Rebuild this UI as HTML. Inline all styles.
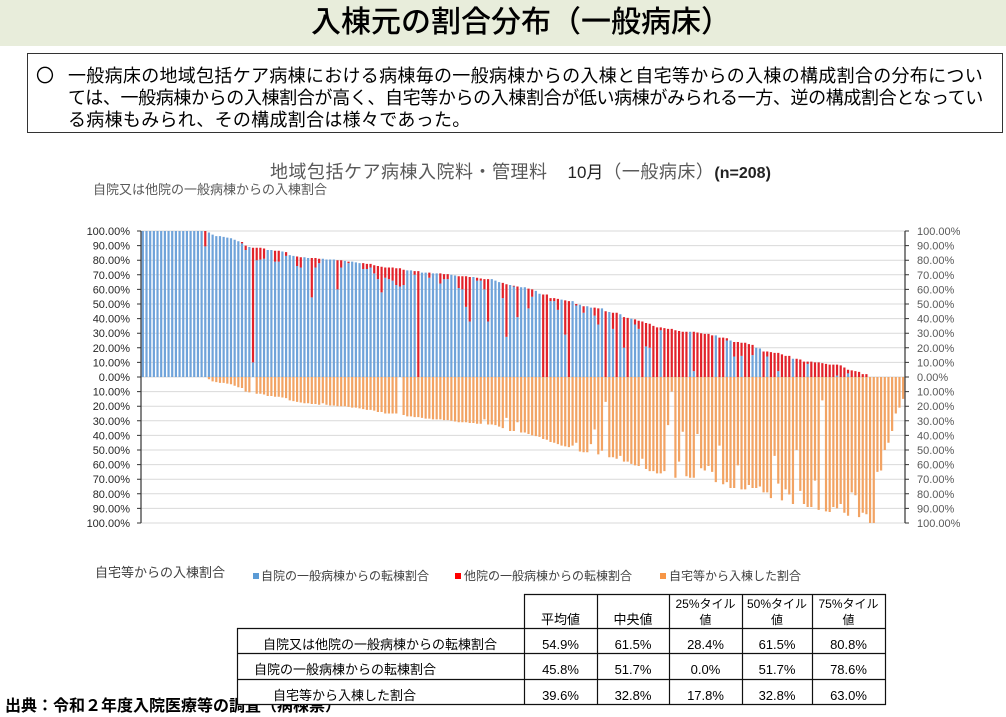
<!DOCTYPE html>
<html><head><meta charset="utf-8">
<style>
body{margin:0;background:#fff;}
#p{position:relative;width:1006px;height:717px;overflow:hidden;background:#fff;font-family:"Liberation Sans","Noto Sans CJK JP",sans-serif;color:#000;}
.a{position:absolute;white-space:nowrap;}
.t{font-size:13px;line-height:16px;text-align:center;}
.h{font-size:12px;line-height:16px;text-align:center;}
</style></head><body><div id="p">

<div class="a" style="left:0;top:0;width:1006px;height:46px;background:#E8EDDB;"></div>
<div class="a" style="left:311px;top:0;height:46px;line-height:46px;font-size:30px;font-weight:500;">入棟元の割合分布（一般病床）</div>

<div class="a" style="left:27px;top:53px;width:974px;height:78px;border:1.5px solid #333;"></div>
<div class="a" style="left:36px;top:65px;font-size:18px;line-height:22px;">〇</div>
<div class="a" style="left:68px;top:65px;font-size:18px;line-height:22px;letter-spacing:0.3px;">一般病床の地域包括ケア病棟における病棟毎の一般病棟からの入棟と自宅等からの入棟の構成割合の分布につい</div>
<div class="a" style="left:68px;top:87px;font-size:18px;line-height:22px;letter-spacing:-0.37px;">ては、一般病棟からの入棟割合が高く、自宅等からの入棟割合が低い病棟がみられる一方、逆の構成割合となってい</div>
<div class="a" style="left:68px;top:109px;font-size:18px;line-height:22px;letter-spacing:0.3px;">る病棟もみられ、その構成割合は様々であった。</div>

<div class="a" style="left:270px;top:162px;line-height:20px;font-size:18px;color:#595959;letter-spacing:0.5px;">地域包括ケア病棟入院料・管理料<span style="color:#222;font-size:17px;margin-left:20px;letter-spacing:0;">10月</span>（一般病床）<b style="color:#222;font-size:16px;letter-spacing:0;">(n=208)</b></div>
<div class="a" style="left:93px;top:182px;font-size:13px;line-height:16px;color:#595959;">自院又は他院の一般病棟からの入棟割合</div>

<svg class="a" style="left:0;top:0" width="1006" height="717">
<path fill="none" stroke="#D9D9D9" stroke-width="1" d="M141 231H905M141 245.6H905M141 260.2H905M141 274.8H905M141 289.4H905M141 304H905M141 318.6H905M141 333.2H905M141 347.8H905M141 362.4H905M141 377H905M141 391.6H905M141 406.2H905M141 420.8H905M141 435.4H905M141 450H905M141 464.6H905M141 479.2H905M141 493.8H905M141 508.4H905M141 523H905"/>
<g transform="matrix(3.673 0 0 -1.46 141 377)">
<path fill="#6FA3DA" d="M0.2 0V100h.6V0zM1.2 0V100h.6V0zM2.2 0V100h.6V0zM3.2 0V100h.6V0zM4.2 0V100h.6V0zM5.2 0V100h.6V0zM6.2 0V100h.6V0zM7.2 0V100h.6V0zM8.2 0V100h.6V0zM9.2 0V100h.6V0zM10.2 0V100h.6V0zM11.2 0V100h.6V0zM12.2 0V100h.6V0zM13.2 0V100h.6V0zM14.2 0V100h.6V0zM15.2 0V100h.6V0zM16.2 0V100h.6V0zM17.2 0V89.5h.6V0zM18.2 0V99h.6V0zM19.2 0V97.5h.6V0zM20.2 0V96.5h.6V0zM21.2 0V96.5h.6V0zM22.2 0V96h.6V0zM23.2 0V95.5h.6V0zM24.2 0V95h.6V0zM25.2 0V94h.6V0zM26.2 0V93h.6V0zM27.2 0V91.5h.6V0zM28.2 0V87h.6V0zM29.2 0V89h.6V0zM30.2 0V10h.6V0zM31.2 0V80h.6V0zM32.2 0V80.5h.6V0zM33.2 0V81h.6V0zM34.2 0V87h.6V0zM35.2 0V87h.6V0zM36.2 0V79h.6V0zM37.2 0V79h.6V0zM38.2 0V86h.6V0zM39.2 0V83h.6V0zM40.2 0V83.5h.6V0zM41.2 0V83h.6V0zM42.2 0V76h.6V0zM43.2 0V75h.6V0zM44.2 0V82h.6V0zM45.2 0V81.5h.6V0zM46.2 0V54.5h.6V0zM47.2 0V75h.6V0zM48.2 0V78h.6V0zM49.2 0V81h.6V0zM50.2 0V80.5h.6V0zM51.2 0V80.5h.6V0zM52.2 0V80.5h.6V0zM53.2 0V60h.6V0zM54.2 0V75h.6V0zM55.2 0V79.5h.6V0zM56.2 0V78h.6V0zM57.2 0V79h.6V0zM58.2 0V78.5h.6V0zM59.2 0V78h.6V0zM60.2 0V74h.6V0zM61.2 0V74h.6V0zM62.2 0V75h.6V0zM63.2 0V71h.6V0zM64.2 0V67h.6V0zM65.2 0V58h.6V0zM66.2 0V68h.6V0zM67.2 0V67h.6V0zM68.2 0V66h.6V0zM69.2 0V63h.6V0zM70.2 0V62h.6V0zM71.2 0V63h.6V0zM72.2 0V73h.6V0zM73.2 0V73h.6V0zM74.2 0V70h.6V0zM76.2 0V71.5h.6V0zM77.2 0V71.5h.6V0zM78.2 0V68h.6V0zM79.2 0V71h.6V0zM80.2 0V71h.6V0zM81.2 0V64h.6V0zM82.2 0V67h.6V0zM83.2 0V67h.6V0zM84.2 0V70h.6V0zM85.2 0V69.5h.6V0zM86.2 0V61h.6V0zM87.2 0V60h.6V0zM88.2 0V48h.6V0zM89.2 0V38h.6V0zM90.2 0V68.5h.6V0zM91.2 0V66h.6V0zM92.2 0V66h.6V0zM93.2 0V60h.6V0zM94.2 0V38h.6V0zM95.2 0V67h.6V0zM96.2 0V66h.6V0zM97.2 0V65h.6V0zM98.2 0V54h.6V0zM99.2 0V27.5h.6V0zM100.2 0V63h.6V0zM101.2 0V62h.6V0zM102.2 0V41h.6V0zM103.2 0V61.5h.6V0zM104.2 0V61.5h.6V0zM105.2 0V47h.6V0zM106.2 0V55h.6V0zM107.2 0V59h.6V0zM108.2 0V57h.6V0zM111.2 0V52h.6V0zM112.2 0V52h.6V0zM113.2 0V46h.6V0zM114.2 0V53h.6V0zM115.2 0V29h.6V0zM117.2 0V52h.6V0zM118.2 0V49h.6V0zM119.2 0V49.5h.6V0zM120.2 0V44h.6V0zM121.2 0V48.5h.6V0zM122.2 0V47.5h.6V0zM123.2 0V42h.6V0zM124.2 0V36h.6V0zM125.2 0V47h.6V0zM127.2 0V44.5h.6V0zM128.2 0V33h.6V0zM130.2 0V43h.6V0zM131.2 0V20h.6V0zM133.2 0V40h.6V0zM134.2 0V36h.6V0zM135.2 0V33h.6V0zM137.2 0V21h.6V0zM138.2 0V20h.6V0zM141.2 0V32h.6V0zM149.2 0V31h.6V0zM150.2 0V4h.6V0zM156.2 0V28.5h.6V0zM159.2 0V25h.6V0zM160.2 0V25h.6V0zM161.2 0V14h.6V0zM163.2 0V14.5h.6V0zM166.2 0V15h.6V0zM167.2 0V20h.6V0zM168.2 0V19.5h.6V0zM170.2 0V14h.6V0zM173.2 0V4h.6V0zM177.2 0V12.5h.6V0zM181.2 0V9h.6V0zM189.2 0V1h.6V0zM192.2 0V2.5h.6V0z"/>
<path fill="#E2222A" d="M17.2 89.5V100h.6V89.5zM27.2 91.5V92.5h.6V91.5zM28.2 87V90h.6V87zM30.2 10V88.5h.6V10zM31.2 80V88.5h.6V80zM32.2 80.5V88.5h.6V80.5zM33.2 81V88h.6V81zM36.2 79V86.5h.6V79zM37.2 79V86.5h.6V79zM39.2 83V85.5h.6V83zM42.2 76V82.5h.6V76zM43.2 75V82h.6V75zM46.2 54.5V81.5h.6V54.5zM47.2 75V81.5h.6V75zM48.2 78V81h.6V78zM53.2 60V80h.6V60zM54.2 75V80h.6V75zM56.2 78V79h.6V78zM60.2 74V78h.6V74zM61.2 74V77.5h.6V74zM62.2 75V77.5h.6V75zM63.2 71V76.5h.6V71zM64.2 67V76h.6V67zM65.2 58V75.5h.6V58zM66.2 68V75h.6V68zM67.2 67V75h.6V67zM68.2 66V75h.6V66zM69.2 63V74.5h.6V63zM70.2 62V74.5h.6V62zM71.2 63V73.5h.6V63zM74.2 70V72.5h.6V70zM75.2 0V72.5h.6V0zM78.2 68V71.5h.6V68zM81.2 64V71h.6V64zM82.2 67V70.5h.6V67zM83.2 67V70.5h.6V67zM86.2 61V69h.6V61zM87.2 60V69h.6V60zM88.2 48V69h.6V48zM89.2 38V68.5h.6V38zM91.2 66V68h.6V66zM92.2 66V67.5h.6V66zM93.2 60V67h.6V60zM94.2 38V67h.6V38zM98.2 54V64.5h.6V54zM99.2 27.5V63.5h.6V27.5zM101.2 62V62.5h.6V62zM102.2 41V62h.6V41zM105.2 47V60.5h.6V47zM106.2 55V60h.6V55zM109.2 0V56.5h.6V0zM110.2 0V56.5h.6V0zM111.2 52V54h.6V52zM112.2 52V54h.6V52zM113.2 46V53.5h.6V46zM115.2 29V52.5h.6V29zM116.2 0V52h.6V0zM118.2 49V50h.6V49zM120.2 44V48.5h.6V44zM123.2 42V47.5h.6V42zM124.2 36V47h.6V36zM126.2 0V45h.6V0zM128.2 33V44h.6V33zM129.2 0V44h.6V0zM131.2 20V41h.6V20zM132.2 0V40.5h.6V0zM134.2 36V39.5h.6V36zM135.2 33V38.5h.6V33zM136.2 0V38h.6V0zM137.2 21V37h.6V21zM138.2 20V36.5h.6V20zM139.2 0V35h.6V0zM140.2 0V34h.6V0zM141.2 32V34h.6V32zM142.2 0V33.5h.6V0zM143.2 0V33h.6V0zM144.2 0V33h.6V0zM145.2 0V32h.6V0zM146.2 0V31.5h.6V0zM147.2 0V31h.6V0zM148.2 0V31h.6V0zM150.2 4V31h.6V4zM151.2 0V30.5h.6V0zM152.2 0V30h.6V0zM153.2 0V29.5h.6V0zM154.2 0V29.5h.6V0zM155.2 0V28.5h.6V0zM157.2 0V27h.6V0zM158.2 0V27h.6V0zM159.2 25V26.5h.6V25zM161.2 14V24h.6V14zM162.2 0V24h.6V0zM163.2 14.5V23.5h.6V14.5zM164.2 0V23.5h.6V0zM165.2 0V22.5h.6V0zM166.2 15V22h.6V15zM169.2 0V17.5h.6V0zM170.2 14V17.5h.6V14zM171.2 0V17h.6V0zM172.2 0V16.5h.6V0zM173.2 4V16.5h.6V4zM174.2 0V15.5h.6V0zM175.2 0V14.5h.6V0zM176.2 0V14.5h.6V0zM178.2 0V12.5h.6V0zM179.2 0V12h.6V0zM180.2 0V10.5h.6V0zM181.2 9V10.5h.6V9zM182.2 0V10.5h.6V0zM183.2 0V10h.6V0zM184.2 0V10h.6V0zM185.2 0V9.5h.6V0zM186.2 0V9h.6V0zM187.2 0V8.5h.6V0zM188.2 0V8.5h.6V0zM189.2 1V8.5h.6V1zM190.2 0V8h.6V0zM191.2 0V6.5h.6V0zM192.2 2.5V5h.6V2.5zM193.2 0V4.5h.6V0zM194.2 0V4h.6V0zM195.2 0V3.5h.6V0zM196.2 0V2h.6V0zM197.2 0V2h.6V0z"/>
<path fill="#F2A363" d="M18.2 0V-1.5h.6V0zM19.2 0V-3h.6V0zM20.2 0V-3.5h.6V0zM21.2 0V-4h.6V0zM22.2 0V-4h.6V0zM23.2 0V-4.5h.6V0zM24.2 0V-5h.6V0zM25.2 0V-6h.6V0zM26.2 0V-7h.6V0zM27.2 0V-7.5h.6V0zM28.2 0V-10h.6V0zM29.2 0V-10.5h.6V0zM31.2 0V-11.5h.6V0zM32.2 0V-11.5h.6V0zM33.2 0V-12h.6V0zM34.2 0V-13h.6V0zM35.2 0V-13h.6V0zM36.2 0V-13.5h.6V0zM37.2 0V-13.5h.6V0zM38.2 0V-14h.6V0zM39.2 0V-14.5h.6V0zM40.2 0V-16h.6V0zM41.2 0V-16.5h.6V0zM42.2 0V-17h.6V0zM43.2 0V-17.5h.6V0zM44.2 0V-18h.6V0zM45.2 0V-18h.6V0zM46.2 0V-18.5h.6V0zM47.2 0V-18.5h.6V0zM48.2 0V-19h.6V0zM49.2 0V-18h.6V0zM50.2 0V-19h.6V0zM51.2 0V-19.5h.6V0zM52.2 0V-19.5h.6V0zM53.2 0V-20h.6V0zM54.2 0V-20h.6V0zM55.2 0V-20h.6V0zM56.2 0V-20.5h.6V0zM57.2 0V-21h.6V0zM58.2 0V-21h.6V0zM59.2 0V-21.5h.6V0zM60.2 0V-22h.6V0zM61.2 0V-22.5h.6V0zM62.2 0V-22.5h.6V0zM63.2 0V-23h.6V0zM64.2 0V-24h.6V0zM65.2 0V-24h.6V0zM66.2 0V-25h.6V0zM67.2 0V-25h.6V0zM68.2 0V-25h.6V0zM69.2 0V-25h.6V0zM71.2 0V-26h.6V0zM72.2 0V-27h.6V0zM73.2 0V-27h.6V0zM74.2 0V-27.5h.6V0zM75.2 0V-27.5h.6V0zM76.2 0V-28h.6V0zM77.2 0V-28.5h.6V0zM78.2 0V-28.5h.6V0zM79.2 0V-29h.6V0zM80.2 0V-29h.6V0zM81.2 0V-29h.6V0zM82.2 0V-29.5h.6V0zM83.2 0V-29.5h.6V0zM84.2 0V-30h.6V0zM85.2 0V-30.5h.6V0zM86.2 0V-31h.6V0zM87.2 0V-31h.6V0zM88.2 0V-31h.6V0zM89.2 0V-31.5h.6V0zM90.2 0V-31.5h.6V0zM91.2 0V-32h.6V0zM92.2 0V-32h.6V0zM93.2 0V-29h.6V0zM94.2 0V-32.5h.6V0zM95.2 0V-32.5h.6V0zM96.2 0V-33h.6V0zM97.2 0V-34h.6V0zM98.2 0V-35h.6V0zM99.2 0V-28h.6V0zM100.2 0V-37h.6V0zM101.2 0V-37h.6V0zM102.2 0V-31h.6V0zM103.2 0V-38h.6V0zM104.2 0V-38h.6V0zM105.2 0V-39h.6V0zM106.2 0V-40h.6V0zM107.2 0V-40.5h.6V0zM108.2 0V-41h.6V0zM109.2 0V-42.5h.6V0zM110.2 0V-43h.6V0zM111.2 0V-44.5h.6V0zM112.2 0V-45h.6V0zM113.2 0V-46h.6V0zM114.2 0V-47h.6V0zM115.2 0V-47.5h.6V0zM116.2 0V-48h.6V0zM117.2 0V-47h.6V0zM118.2 0V-45h.6V0zM119.2 0V-51h.6V0zM120.2 0V-51.5h.6V0zM121.2 0V-51.5h.6V0zM122.2 0V-46h.6V0zM123.2 0V-36h.6V0zM124.2 0V-53h.6V0zM125.2 0V-50.5h.6V0zM126.2 0V-17h.6V0zM127.2 0V-55h.6V0zM128.2 0V-55h.6V0zM129.2 0V-56h.6V0zM130.2 0V-54h.6V0zM131.2 0V-58h.6V0zM132.2 0V-58h.6V0zM133.2 0V-59.5h.6V0zM134.2 0V-60.5h.6V0zM135.2 0V-61h.6V0zM136.2 0V-56h.6V0zM137.2 0V-63h.6V0zM138.2 0V-64.5h.6V0zM139.2 0V-64.5h.6V0zM140.2 0V-66h.6V0zM141.2 0V-66h.6V0zM142.2 0V-64.5h.6V0zM143.2 0V-33h.6V0zM144.2 0V-10h.6V0zM145.2 0V-69h.6V0zM146.2 0V-58h.6V0zM147.2 0V-37.5h.6V0zM148.2 0V-68h.6V0zM149.2 0V-69h.6V0zM150.2 0V-69h.6V0zM151.2 0V-39h.6V0zM152.2 0V-62.5h.6V0zM153.2 0V-64h.6V0zM154.2 0V-61h.6V0zM155.2 0V-65h.6V0zM156.2 0V-72h.6V0zM157.2 0V-47h.6V0zM158.2 0V-73.5h.6V0zM159.2 0V-72h.6V0zM160.2 0V-76h.6V0zM161.2 0V-76h.6V0zM162.2 0V-60.5h.6V0zM163.2 0V-77h.6V0zM164.2 0V-77h.6V0zM165.2 0V-74h.6V0zM166.2 0V-76h.6V0zM167.2 0V-76h.6V0zM168.2 0V-75h.6V0zM169.2 0V-79h.6V0zM170.2 0V-79h.6V0zM171.2 0V-83h.6V0zM172.2 0V-54h.6V0zM173.2 0V-73h.6V0zM174.2 0V-84.5h.6V0zM175.2 0V-77h.6V0zM176.2 0V-80.5h.6V0zM177.2 0V-87h.6V0zM178.2 0V-50h.6V0zM179.2 0V-78h.6V0zM180.2 0V-87h.6V0zM181.2 0V-89h.6V0zM182.2 0V-89h.6V0zM183.2 0V-71h.6V0zM184.2 0V-91h.6V0zM185.2 0V-16h.6V0zM186.2 0V-92h.6V0zM187.2 0V-92.5h.6V0zM188.2 0V-89h.6V0zM189.2 0V-90h.6V0zM190.2 0V-87h.6V0zM191.2 0V-93h.6V0zM192.2 0V-95h.6V0zM193.2 0V-79h.6V0zM194.2 0V-81h.6V0zM195.2 0V-96h.6V0zM196.2 0V-93h.6V0zM197.2 0V-94h.6V0zM198.2 0V-100h.6V0zM199.2 0V-100h.6V0zM200.2 0V-65h.6V0zM201.2 0V-64h.6V0zM202.2 0V-50h.6V0zM203.2 0V-45h.6V0zM204.2 0V-37h.6V0zM205.2 0V-25h.6V0zM206.2 0V-21h.6V0zM207.2 0V-15h.6V0z"/>
</g>
<path fill="none" stroke="#333" stroke-width="1.2" d="M141 231V523M905 231V523"/>
<path fill="none" stroke="#333" stroke-width="1" d="M137 231H141M137 245.6H141M137 260.2H141M137 274.8H141M137 289.4H141M137 304H141M137 318.6H141M137 333.2H141M137 347.8H141M137 362.4H141M137 377H141M137 391.6H141M137 406.2H141M137 420.8H141M137 435.4H141M137 450H141M137 464.6H141M137 479.2H141M137 493.8H141M137 508.4H141M137 523H141M905 231H909M905 245.6H909M905 260.2H909M905 274.8H909M905 289.4H909M905 304H909M905 318.6H909M905 333.2H909M905 347.8H909M905 362.4H909M905 377H909M905 391.6H909M905 406.2H909M905 420.8H909M905 435.4H909M905 450H909M905 464.6H909M905 479.2H909M905 493.8H909M905 508.4H909M905 523H909"/>
<g font-family="Liberation Sans, sans-serif" font-size="11" fill="#262626" text-anchor="end">
<text x="130" y="235">100.00%</text><text x="130" y="249.6">90.00%</text><text x="130" y="264.2">80.00%</text><text x="130" y="278.8">70.00%</text><text x="130" y="293.4">60.00%</text><text x="130" y="308">50.00%</text><text x="130" y="322.6">40.00%</text><text x="130" y="337.2">30.00%</text><text x="130" y="351.8">20.00%</text><text x="130" y="366.4">10.00%</text><text x="130" y="381">0.00%</text><text x="130" y="395.6">10.00%</text><text x="130" y="410.2">20.00%</text><text x="130" y="424.8">30.00%</text><text x="130" y="439.4">40.00%</text><text x="130" y="454">50.00%</text><text x="130" y="468.6">60.00%</text><text x="130" y="483.2">70.00%</text><text x="130" y="497.8">80.00%</text><text x="130" y="512.4">90.00%</text><text x="130" y="527">100.00%</text>
</g>
<g font-family="Liberation Sans, sans-serif" font-size="11" fill="#595959">
<text x="917" y="235">100.00%</text><text x="917" y="249.6">90.00%</text><text x="917" y="264.2">80.00%</text><text x="917" y="278.8">70.00%</text><text x="917" y="293.4">60.00%</text><text x="917" y="308">50.00%</text><text x="917" y="322.6">40.00%</text><text x="917" y="337.2">30.00%</text><text x="917" y="351.8">20.00%</text><text x="917" y="366.4">10.00%</text><text x="917" y="381">0.00%</text><text x="917" y="395.6">10.00%</text><text x="917" y="410.2">20.00%</text><text x="917" y="424.8">30.00%</text><text x="917" y="439.4">40.00%</text><text x="917" y="454">50.00%</text><text x="917" y="468.6">60.00%</text><text x="917" y="483.2">70.00%</text><text x="917" y="497.8">80.00%</text><text x="917" y="512.4">90.00%</text><text x="917" y="527">100.00%</text>
</g>
<rect x="253" y="573" width="6" height="6" fill="#5B9BD5"/>
<rect x="455" y="573" width="6" height="6" fill="#FF0000"/>
<rect x="660" y="573" width="6" height="6" fill="#F79646"/>
</svg>

<div class="a" style="left:95px;top:565px;font-size:13px;line-height:16px;color:#404040;">自宅等からの入棟割合</div>
<div class="a" style="left:261px;top:569px;font-size:12px;line-height:15px;color:#404040;">自院の一般病棟からの転棟割合</div>
<div class="a" style="left:464px;top:569px;font-size:12px;line-height:15px;color:#404040;">他院の一般病棟からの転棟割合</div>
<div class="a" style="left:669px;top:569px;font-size:12px;line-height:15px;color:#404040;">自宅等から入棟した割合</div>

<div class="a" style="left:5px;top:698px;font-size:16px;line-height:18px;font-weight:bold;">出典：令和２年度入院医療等の調査（病棟票）</div>

<svg class="a" style="left:0;top:0" width="1006" height="717">
<rect x="524" y="594" width="361" height="34" fill="#fff"/>
<rect x="237" y="628" width="648" height="77" fill="#fff"/>
<path fill="none" stroke="#111" stroke-width="1.2" d="M524 594.5H886M237 628.5H886M237 653.5H886M237 679.5H886M237 704.5H886M237.5 628V705M524.5 594V705M597.5 594V705M669.5 594V705M742.5 594V705M812.5 594V705M885.5 594V705"/>
</svg>

<div class="a t" style="left:524px;top:612px;width:73px;">平均値</div>
<div class="a t" style="left:597px;top:612px;width:72px;">中央値</div>
<div class="a h" style="left:669px;top:596px;width:73px;">25%タイル<br>値</div>
<div class="a h" style="left:742px;top:596px;width:70px;">50%タイル<br>値</div>
<div class="a h" style="left:812px;top:596px;width:73px;">75%タイル<br>値</div>

<div class="a" style="left:263px;top:637px;font-size:13px;line-height:16px;">自院又は他院の一般病棟からの転棟割合</div>
<div class="a" style="left:254px;top:662px;font-size:13px;line-height:16px;">自院の一般病棟からの転棟割合</div>
<div class="a" style="left:273px;top:688px;font-size:13px;line-height:16px;">自宅等から入棟した割合</div>

<div class="a t" style="left:524px;top:637px;width:73px;">54.9%</div>
<div class="a t" style="left:597px;top:637px;width:72px;">61.5%</div>
<div class="a t" style="left:669px;top:637px;width:73px;">28.4%</div>
<div class="a t" style="left:742px;top:637px;width:70px;">61.5%</div>
<div class="a t" style="left:812px;top:637px;width:73px;">80.8%</div>

<div class="a t" style="left:524px;top:662px;width:73px;">45.8%</div>
<div class="a t" style="left:597px;top:662px;width:72px;">51.7%</div>
<div class="a t" style="left:669px;top:662px;width:73px;">0.0%</div>
<div class="a t" style="left:742px;top:662px;width:70px;">51.7%</div>
<div class="a t" style="left:812px;top:662px;width:73px;">78.6%</div>

<div class="a t" style="left:524px;top:688px;width:73px;">39.6%</div>
<div class="a t" style="left:597px;top:688px;width:72px;">32.8%</div>
<div class="a t" style="left:669px;top:688px;width:73px;">17.8%</div>
<div class="a t" style="left:742px;top:688px;width:70px;">32.8%</div>
<div class="a t" style="left:812px;top:688px;width:73px;">63.0%</div>

</div></body></html>
